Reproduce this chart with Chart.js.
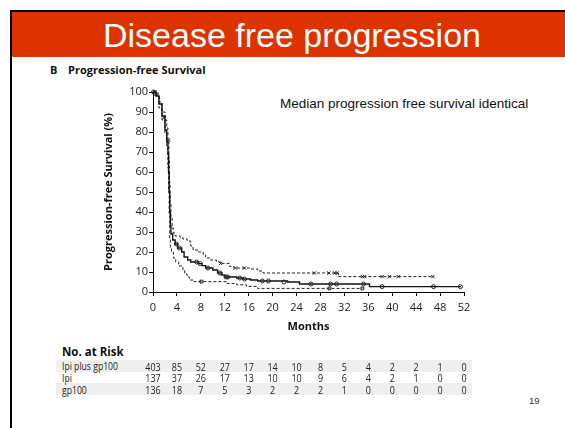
<!DOCTYPE html>
<html>
<head>
<meta charset="utf-8">
<script src="https://cdn.jsdelivr.net/npm/chart.js@4.4.1/dist/chart.umd.min.js"></script>
<style>
  body { margin: 0; width: 565px; height: 428px; background: #fff; position: relative; overflow: hidden; font-family: "Open Sans", sans-serif; color: #222; }
  .abs { position: absolute; white-space: nowrap; }
  .slideTitle { left: 103px; top: 18px; font: 34px/34px "Liberation Sans", Arial, sans-serif; color: #fff; }
  .panel { top: 64px; font: bold 11px/11px "Open Sans", sans-serif; color: #111; }
  .note { left: 280px; top: 97px; font: 13.5px/13.5px "Liberation Sans", Arial, sans-serif; color: #111; }
  .riskHead { left: 62px; top: 345.5px; font: bold 11.5px/11.5px "Open Sans", sans-serif; color: #111; }
  .rowLabel { left: 62px; font: 11.5px/11.5px "Open Sans", sans-serif; transform: scaleX(0.75); transform-origin: left top; }
  .band { left: 56px; width: 416px; background: #efefef; }
  .pageNo { left: 529px; top: 396px; font: 9.5px/9.5px "Liberation Sans", Arial, sans-serif; color: #333; }
</style>
</head>
<body>
<div class="abs" style="left:10px;top:10px;width:555px;height:2px;background:#000"></div>
<div class="abs" style="left:10px;top:10px;width:2px;height:418px;background:#000"></div>
<div class="abs" style="left:12px;top:12px;width:553px;height:45px;background:#dd3300"></div>
<div class="abs slideTitle">Disease free progression</div>
<div class="abs panel" style="left:50px">B</div>
<div class="abs panel" style="left:68px">Progression-free Survival</div>
<div class="abs note">Median progression free survival identical</div>

<div class="abs band" style="top:360px;height:11.6px"></div>
<div class="abs band" style="top:383.3px;height:11.7px"></div>
<div class="abs riskHead">No. at Risk</div>
<div class="abs rowLabel" style="top:360.3px">Ipi plus gp100</div>
<div class="abs rowLabel" style="top:372px">Ipi</div>
<div class="abs rowLabel" style="top:383.8px">gp100</div>
<div class="abs pageNo">19</div>

<canvas id="chart" width="565" height="428" style="position:absolute;left:0;top:0"></canvas>

<script>
// Courbes de survie (mois, % sans progression)
const ipiGpMonths = [0, 0.5, 1, 1.5, 2, 2.3, 2.5, 2.6, 2.7, 2.8, 2.9, 3.0, 3.3, 3.7, 4.1, 4.8, 5.2, 5.8, 6.3, 7.6, 8.2, 8.8, 10.0, 10.8, 11.5, 12.0, 14.0, 15.0, 16.3, 17.5, 22.5, 24.5, 36.2, 51.5];
const ipiGpSurv   = [100, 98, 94, 88, 81, 75, 69, 60, 50, 40, 33, 29, 26, 24, 22, 20, 17.5, 16, 15, 14.2, 13.2, 12, 11, 9.5, 8.5, 7.5, 7, 6.5, 6, 5.5, 5, 4, 2.7, 2.7];

const ipiMonths = [0, 0.5, 1, 1.5, 2, 2.3, 2.5, 2.65, 2.75, 2.85, 3.0, 3.2, 3.4, 3.7, 4.5, 5.0, 5.7, 6.3, 6.7, 7.6, 8.4, 8.8, 9.5, 10.6, 11.3, 12.8, 13.5, 16.3, 17.5, 18.4, 31.0, 46.8];
const ipiSurv   = [100, 99, 95, 90, 86, 82, 76, 66, 55, 45, 37, 32, 29.5, 28, 27.5, 26.5, 25.5, 23, 21, 20, 18.5, 17, 16, 15, 14.3, 12.7, 12, 11.5, 10.5, 9.5, 7.7, 7.7];

const gpMonths = [0, 0.5, 1, 1.5, 2, 2.3, 2.5, 2.6, 2.7, 2.8, 2.9, 3.1, 3.4, 3.8, 4.3, 5.0, 5.3, 5.7, 6.1, 6.8, 12.3, 14.0, 15.6, 17.5, 35.0];
const gpSurv   = [100, 98, 92, 86, 79, 72, 62, 50, 38, 27, 22, 20, 17, 15, 13, 11, 9, 7.5, 6, 5.2, 4.3, 3.6, 2.8, 1.8, 1.8];

// Données censurées
const ipiGpCensMonths = [0.1, 0.3, 3.9, 4.4, 7.3, 7.9, 9.2, 11.2, 12.2, 12.5, 14.5, 15.3, 18.3, 19.3, 21.9, 26.4, 29.7, 30.7, 35.2, 38.3, 46.9, 51.4];
const ipiGpCensSurv   = [100, 99.5, 24, 22, 15, 14.2, 12, 9.5, 7.5, 7.5, 7, 6.5, 5.5, 5.5, 5, 4, 4, 4, 4, 2.7, 2.7, 2.7];
const ipiCensMonths = [0.3, 0.6, 1.8, 2.6, 11.3, 13.8, 15.3, 27.0, 29.4, 30.4, 30.8, 35.0, 35.4, 38.3, 39.5, 41.0, 46.8];
const ipiCensSurv   = [100, 99, 87, 76, 14.3, 12, 12, 9.5, 9.5, 9.5, 9.5, 7.7, 7.7, 7.7, 7.7, 7.7, 7.7];
const gpCensMonths = [8.1, 29.5, 35.0];
const gpCensSurv   = [5.2, 1.8, 1.8];

// Nombre de patients à risque
const riskMonths = [0, 4, 8, 12, 16, 20, 24, 28, 32, 36, 40, 44, 48, 52];
const riskIpiGp = [403, 85, 52, 27, 17, 14, 10, 8, 5, 4, 2, 2, 1, 0];
const riskIpi   = [137, 37, 26, 17, 13, 10, 10, 9, 6, 4, 2, 1, 0, 0];
const riskGp    = [136, 18, 7, 5, 3, 2, 2, 2, 1, 0, 0, 0, 0, 0];

function toPoints(xs, ys) {
    return xs.map((x, i) => ({ x: x, y: ys[i] }));
}

const riskTable = {
    id: 'riskTable',
    afterDraw(chart) {
        const ctx = chart.ctx;
        const xScale = chart.scales.x;
        const rows = [riskIpiGp, riskIpi, riskGp];
        const baselines = [370.5, 382.2, 394];
        ctx.save();
        ctx.fillStyle = '#222';
        ctx.font = '11.5px "Open Sans"';
        ctx.textAlign = 'center';
        ctx.textBaseline = 'alphabetic';
        rows.forEach((row, r) => {
            row.forEach((n, i) => {
                ctx.save();
                ctx.translate(xScale.getPixelForValue(riskMonths[i]), baselines[r]);
                ctx.scale(0.78, 1);
                ctx.fillText(String(n), 0, 0);
                ctx.restore();
            });
        });
        ctx.restore();
    }
};

const marks = { showLine: false, borderColor: '#222', borderWidth: 1, backgroundColor: 'rgba(0,0,0,0)', pointRadius: 2, clip: false };

new Chart(document.getElementById('chart'), {
    type: 'line',
    data: {
        datasets: [
            { ...marks, data: toPoints(ipiGpCensMonths, ipiGpCensSurv), pointStyle: 'circle' },
            { ...marks, data: toPoints(ipiCensMonths, ipiCensSurv), pointStyle: 'crossRot', pointRadius: 2.4 },
            { ...marks, data: toPoints(gpCensMonths, gpCensSurv), pointStyle: 'rect' },
            { data: toPoints(ipiGpMonths, ipiGpSurv), stepped: true, borderColor: '#111', borderWidth: 1.4, pointRadius: 0, clip: false },
            { data: toPoints(ipiMonths, ipiSurv), stepped: true, borderColor: '#222', borderWidth: 1, borderDash: [3, 2], pointRadius: 0, clip: false },
            { data: toPoints(gpMonths, gpSurv), stepped: true, borderColor: '#222', borderWidth: 1, borderDash: [3, 2], pointRadius: 0, clip: false }
        ]
    },
    options: {
        responsive: false,
        animation: false,
        layout: { padding: { left: 98, top: 92, right: 101, bottom: 91 } },
        plugins: { legend: { display: false }, tooltip: { enabled: false } },
        scales: {
            x: {
                type: 'linear', min: 0, max: 52,
                ticks: { stepSize: 4, padding: 5, color: '#222', font: { family: 'Open Sans', size: 11 } },
                grid: { drawOnChartArea: false, color: '#000', tickLength: 4 },
                border: { color: '#000', width: 1 },
                title: { display: true, text: 'Months', color: '#111', font: { family: 'Open Sans', size: 11, weight: 'bold' } },
                afterFit: s => { s.height = 45; }
            },
            y: {
                min: 0, max: 100,
                ticks: { stepSize: 10, padding: 1, color: '#222', font: { family: 'Open Sans', size: 11 } },
                grid: { drawOnChartArea: false, color: '#000', tickLength: 4 },
                border: { color: '#000', width: 1 },
                title: { display: true, text: 'Progression-free Survival (%)', color: '#111', font: { family: 'Open Sans', size: 11, weight: 'bold' } },
                afterFit: s => { s.width = 55; }
            }
        }
    },
    plugins: [riskTable]
});
</script>
</body>
</html>
